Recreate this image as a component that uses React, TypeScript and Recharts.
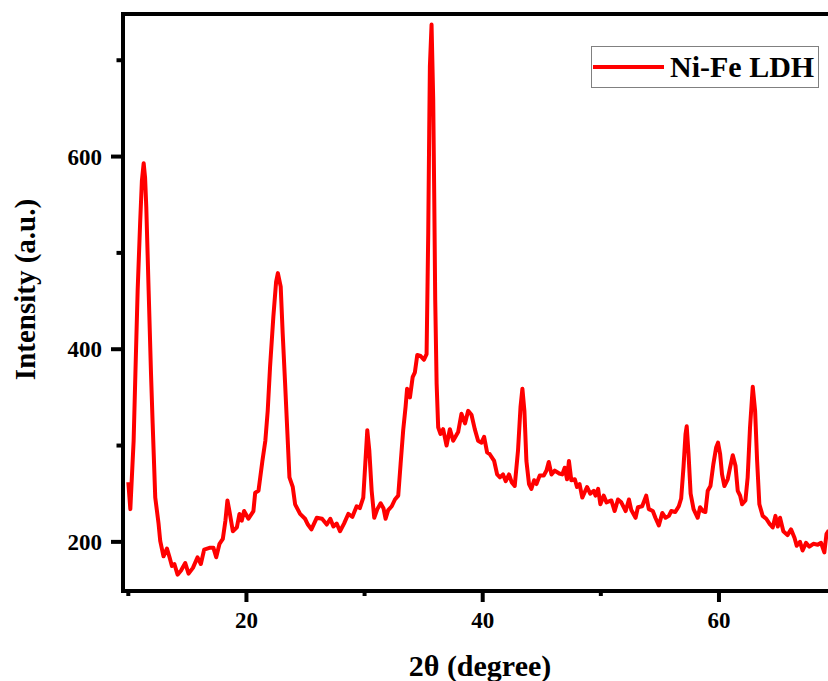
import { LineChart, Line, XAxis, YAxis, ReferenceLine, Legend } from "recharts";

// XRD pattern, Ni-Fe LDH
const twoTheta = [
  10.0, 10.17, 10.45, 10.6, 10.79, 11.0, 11.15, 11.3, 11.42, 11.52, 11.72, 11.92, 12.06, 12.28, 12.56, 12.7,
  12.98, 13.27, 13.49, 13.69, 13.9, 14.17, 14.45, 14.82, 15.1, 15.47, 15.86, 16.14, 16.42, 16.93, 17.2, 17.44,
  17.72, 18.0, 18.22, 18.39, 18.56, 18.85, 19.19, 19.41, 19.6, 19.8, 20.17, 20.59, 20.74, 21.02, 21.35, 21.6,
  21.8, 22.0, 22.28, 22.51, 22.66, 22.9, 23.07, 23.27, 23.47, 23.64, 23.92, 24.12, 24.54, 24.96, 25.2, 25.5,
  25.95, 26.4, 26.8, 27.1, 27.36, 27.64, 27.92, 28.26, 28.62, 28.97, 29.33, 29.6, 29.89, 30.06, 30.23, 30.4,
  30.6, 30.82, 31.08, 31.36, 31.6, 31.78, 32.0, 32.3, 32.57, 32.85, 33.05, 33.27, 33.47, 33.6, 33.84, 34.07,
  34.26, 34.46, 34.74, 35.02, 35.25, 35.39, 35.47, 35.53, 35.67, 35.81, 35.9, 35.98, 36.1, 36.23, 36.43, 36.65,
  36.94, 37.22, 37.5, 37.92, 38.2, 38.5, 38.77, 39.05, 39.33, 39.61, 39.9, 40.12, 40.37, 40.6, 40.97, 41.22,
  41.46, 41.72, 41.95, 42.23, 42.45, 42.71, 42.99, 43.2, 43.36, 43.53, 43.7, 43.92, 44.12, 44.35, 44.55, 44.83,
  45.17, 45.4, 45.59, 45.82, 46.1, 46.48, 46.74, 46.94, 47.14, 47.3, 47.5, 47.8, 47.98, 48.2, 48.43, 48.83,
  49.1, 49.4, 49.55, 49.77, 49.96, 50.24, 50.48, 50.89, 51.17, 51.45, 51.73, 52.1, 52.38, 52.58, 52.94, 53.14,
  53.5, 53.84, 54.06, 54.4, 54.62, 54.91, 55.2, 55.48, 55.76, 55.96, 56.3, 56.6, 56.8, 57.0, 57.17, 57.27,
  57.42, 57.6, 57.85, 58.2, 58.4, 58.64, 58.85, 59.05, 59.28, 59.53, 59.76, 59.92, 60.1, 60.26, 60.46, 60.74,
  60.94, 61.17, 61.4, 61.59, 61.79, 61.96, 62.24, 62.43, 62.63, 62.86, 63.06, 63.23, 63.42, 63.7, 64.0, 64.33,
  64.55, 64.78, 64.98, 65.17, 65.45, 65.8, 66.1, 66.4, 66.58, 66.86, 67.08, 67.37, 67.65, 67.99, 68.36, 68.64,
  68.92, 69.1, 69.3,
];

const intensity = [
  262, 234, 305, 375, 461, 531, 575, 593, 578, 548, 461, 375, 323, 246, 219, 201,
  185, 193, 184, 175, 177, 166, 170, 178, 167, 173, 184, 177, 192, 194, 194, 184,
  198, 203, 222, 243, 232, 211, 215, 229, 222, 232, 224, 232, 251, 253, 284, 305,
  336, 382, 434, 470, 479, 465, 416, 365, 312, 267, 257, 239, 229, 224, 218, 213,
  225, 224, 218, 224, 216, 219, 211, 219, 229, 226, 237, 235, 246, 281, 316, 295,
  253, 225, 234, 240, 235, 224, 233, 237, 244, 248, 281, 316, 340, 359, 350, 371,
  376, 394, 393, 389, 395, 521, 625, 694, 737, 659, 555, 451, 364, 319, 312, 317,
  300, 317, 305, 314, 333, 323, 336, 332, 317, 305, 303, 309, 293, 291, 284, 270,
  267, 270, 263, 270, 262, 258, 295, 340, 359, 336, 284, 260, 255, 264, 260, 269,
  269, 274, 283, 270, 274, 271, 270, 277, 265, 284, 264, 265, 257, 260, 246, 257,
  250, 253, 248, 255, 239, 248, 241, 243, 232, 244, 241, 232, 244, 233, 225, 236,
  237, 248, 234, 232, 225, 217, 230, 225, 227, 232, 231, 237, 245, 278, 312, 320,
  292, 250, 234, 225, 236, 232, 231, 253, 258, 281, 298, 303, 291, 270, 258, 265,
  277, 290, 279, 253, 248, 239, 243, 267, 319, 361, 336, 284, 239, 227, 224, 218,
  215, 227, 216, 225, 211, 207, 213, 204, 196, 200, 191, 199, 195, 198, 197, 199,
  189, 208, 212,
];

const xTicks = [10, 20, 30, 40, 50, 60, 70];
const xLabelled = [20, 40, 60];
const yTicks = [200, 300, 400, 500, 600, 700];
const yLabelled = [200, 400, 600];
const seriesName = "Ni-Fe LDH";

const data = twoTheta.map((x, i) => ({ x, y: intensity[i] }));

const FONT = '"Liberation Serif", "Times New Roman", serif';

function XTick({ x, y, payload }: any) {
  const major = xLabelled.includes(payload.value);
  return (
    <g>
      <line x1={x} x2={x} y1={y - 2} y2={y + (major ? 11 : 5)} stroke="#000" strokeWidth={4} />
      {major && (
        <text x={x} y={y + 37} textAnchor="middle" fontFamily={FONT} fontWeight="bold" fontSize={23} fill="#000">
          {payload.value}
        </text>
      )}
    </g>
  );
}

function YTick({ x, y, payload }: any) {
  const major = yLabelled.includes(payload.value);
  return (
    <g>
      <line x1={x - (major ? 12 : 6.5)} x2={x + 2} y1={y} y2={y} stroke="#000" strokeWidth={4} />
      {major && (
        <text x={x - 21} y={y + 8} textAnchor="end" fontFamily={FONT} fontWeight="bold" fontSize={23} fill="#000">
          {payload.value}
        </text>
      )}
    </g>
  );
}

function LegendBox() {
  return (
    <div
      style={{
        boxSizing: "border-box", width: 228, height: 42, border: "1px solid #808080",
        display: "flex", alignItems: "center", paddingLeft: 1, background: "#fff",
      }}
    >
      <svg width={71} height={6} style={{ display: "block" }}>
        <line x1={0} x2={71} y1={3} y2={3} stroke="#ff0000" strokeWidth={4} />
      </svg>
      <span style={{ marginLeft: 6, fontFamily: FONT, fontWeight: "bold", fontSize: 30, lineHeight: "30px", color: "#000" }}>
        {seriesName}
      </span>
    </div>
  );
}

export default function App() {
  return (
    <div style={{ position: "fixed", left: 0, top: 0, width: 828, height: 681, overflow: "hidden", background: "#fff" }}>
      <LineChart width={860} height={681} data={data} margin={{ top: 14, right: 17, left: 0, bottom: 0 }}>
        <XAxis
          dataKey="x" type="number" domain={[9.55, 70.5]} ticks={xTicks} allowDataOverflow
          height={90} tickSize={0} tickMargin={0} tickLine={false} tick={<XTick />} interval={0}
          axisLine={{ stroke: "#000", strokeWidth: 4, strokeLinecap: "square" }}
          label={{
            content: ({ viewBox }: any) => (
              <text x={viewBox.x + viewBox.width / 2 - 3} y={viewBox.y + 85} textAnchor="middle"
                fontFamily={FONT} fontWeight="bold" fontSize={30} fill="#000">
                2θ (degree)
              </text>
            ),
          }}
        />
        <YAxis
          type="number" domain={[149, 748]} ticks={yTicks} allowDataOverflow width={123}
          tickSize={0} tickMargin={0} tickLine={false} tick={<YTick />} interval={0}
          axisLine={{ stroke: "#000", strokeWidth: 4, strokeLinecap: "square" }}
          label={{
            content: ({ viewBox }: any) => {
              const cx = 35;
              const cy = viewBox.y + viewBox.height / 2 - 13;
              return (
                <text x={cx} y={cy} transform={`rotate(-90 ${cx} ${cy})`} textAnchor="middle"
                  fontFamily={FONT} fontWeight="bold" fontSize={29} fill="#000">
                  Intensity (a.u.)
                </text>
              );
            },
          }}
        />
        <ReferenceLine y={748} stroke="#000" strokeWidth={4} />
        <Legend
          verticalAlign="middle" align="center" content={<LegendBox />}
          wrapperStyle={{ position: "absolute", top: 46, left: 591, width: 228, height: 42 }}
        />
        <Line
          type="linear" dataKey="y" name={seriesName} stroke="#ff0000" strokeWidth={4}
          dot={false} isAnimationActive={false} strokeLinejoin="round"
        />
      </LineChart>
    </div>
  );
}
